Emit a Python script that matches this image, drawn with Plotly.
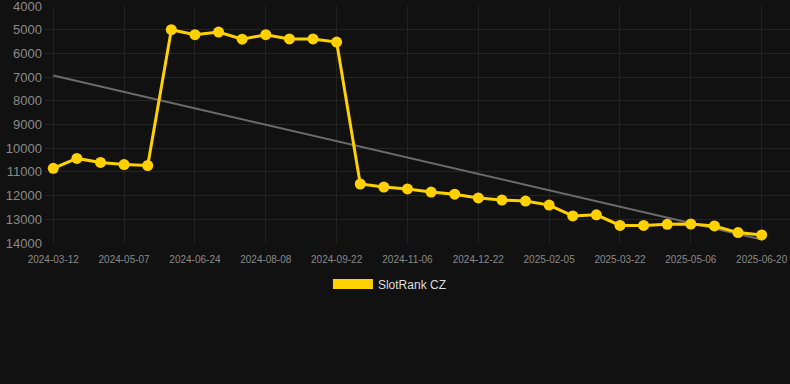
import numpy as np
import plotly.graph_objects as go

dates = ["2024-03-12", "2024-03-30", "2024-04-18", "2024-05-07", "2024-05-23", "2024-06-08",
         "2024-06-24", "2024-07-09", "2024-07-24", "2024-08-08", "2024-08-23", "2024-09-07",
         "2024-09-22", "2024-10-07", "2024-10-22", "2024-11-06", "2024-11-21", "2024-12-06",
         "2024-12-22", "2025-01-06", "2025-01-21", "2025-02-05", "2025-02-20", "2025-03-07",
         "2025-03-22", "2025-04-06", "2025-04-21", "2025-05-06", "2025-05-21", "2025-06-05",
         "2025-06-20"]
ranks = [10850, 10430, 10600, 10690, 10730, 5000, 5210, 5100, 5400, 5210, 5390, 5390,
         5520, 11510, 11640, 11720, 11850, 11940, 12100, 12190, 12230, 12400, 12860, 12810,
         13260, 13260, 13210, 13200, 13280, 13560, 13660]
tick_labels = dates[::3]
y_ticks = [4000, 5000, 6000, 7000, 8000, 9000, 10000, 11000, 12000, 13000, 14000]
series_name = "SlotRank CZ"

idx = np.arange(len(ranks))
slope, intercept = np.polyfit(idx, ranks, 1)
trend = slope * idx + intercept

gold = "#FFD100"
fig = go.Figure()
fig.add_trace(go.Scatter(x=dates, y=trend, mode="lines",
                         line=dict(color="#6b6b6b", width=2),
                         showlegend=False, hoverinfo="skip"))
fig.add_trace(go.Scatter(x=dates, y=ranks, mode="lines+markers",
                         line=dict(color=gold, width=3),
                         marker=dict(color=gold, size=11),
                         showlegend=False, name=series_name))
fig.add_trace(go.Scatter(x=[None], y=[None], mode="lines",
                         line=dict(color=gold, width=13),
                         name=series_name, showlegend=True))

n = len(dates)
fig.update_layout(
    width=790, height=384,
    paper_bgcolor="#111111", plot_bgcolor="#111111",
    margin=dict(l=45, r=0, t=6, b=141),
    font=dict(family="Liberation Sans, Arial, sans-serif"),
    xaxis=dict(type="category", categoryorder="array", categoryarray=dates,
               range=[-0.35, n - 1 + 1.2],
               tickmode="array", tickvals=tick_labels, ticktext=tick_labels,
               tickfont=dict(size=10, color="#8a8a8a"),
               showgrid=True, gridcolor="#222222", gridwidth=1,
               zeroline=False, showline=False, ticks="", ticklabelstandoff=9,
               ticklabeloverflow="allow"),
    yaxis=dict(range=[14000, 3999], tickmode="array", tickvals=y_ticks,
               ticktext=[str(v) for v in y_ticks],
               tickfont=dict(size=13, color="#8a8a8a"),
               showgrid=True, gridcolor="#242424", gridwidth=1,
               zeroline=False, showline=False, ticks="", ticklabelstandoff=2,
               ticklabeloverflow="allow"),
    legend=dict(orientation="h", x=0.463, xanchor="center", y=-0.173, yanchor="middle",
                font=dict(size=12, color="#dddddd"), itemwidth=40,
                bgcolor="rgba(0,0,0,0)"),
    showlegend=True,
)
fig.write_html("out.html", config={"displayModeBar": False},
               post_script="document.body.style.margin='0';document.body.style.background='#111111';")
